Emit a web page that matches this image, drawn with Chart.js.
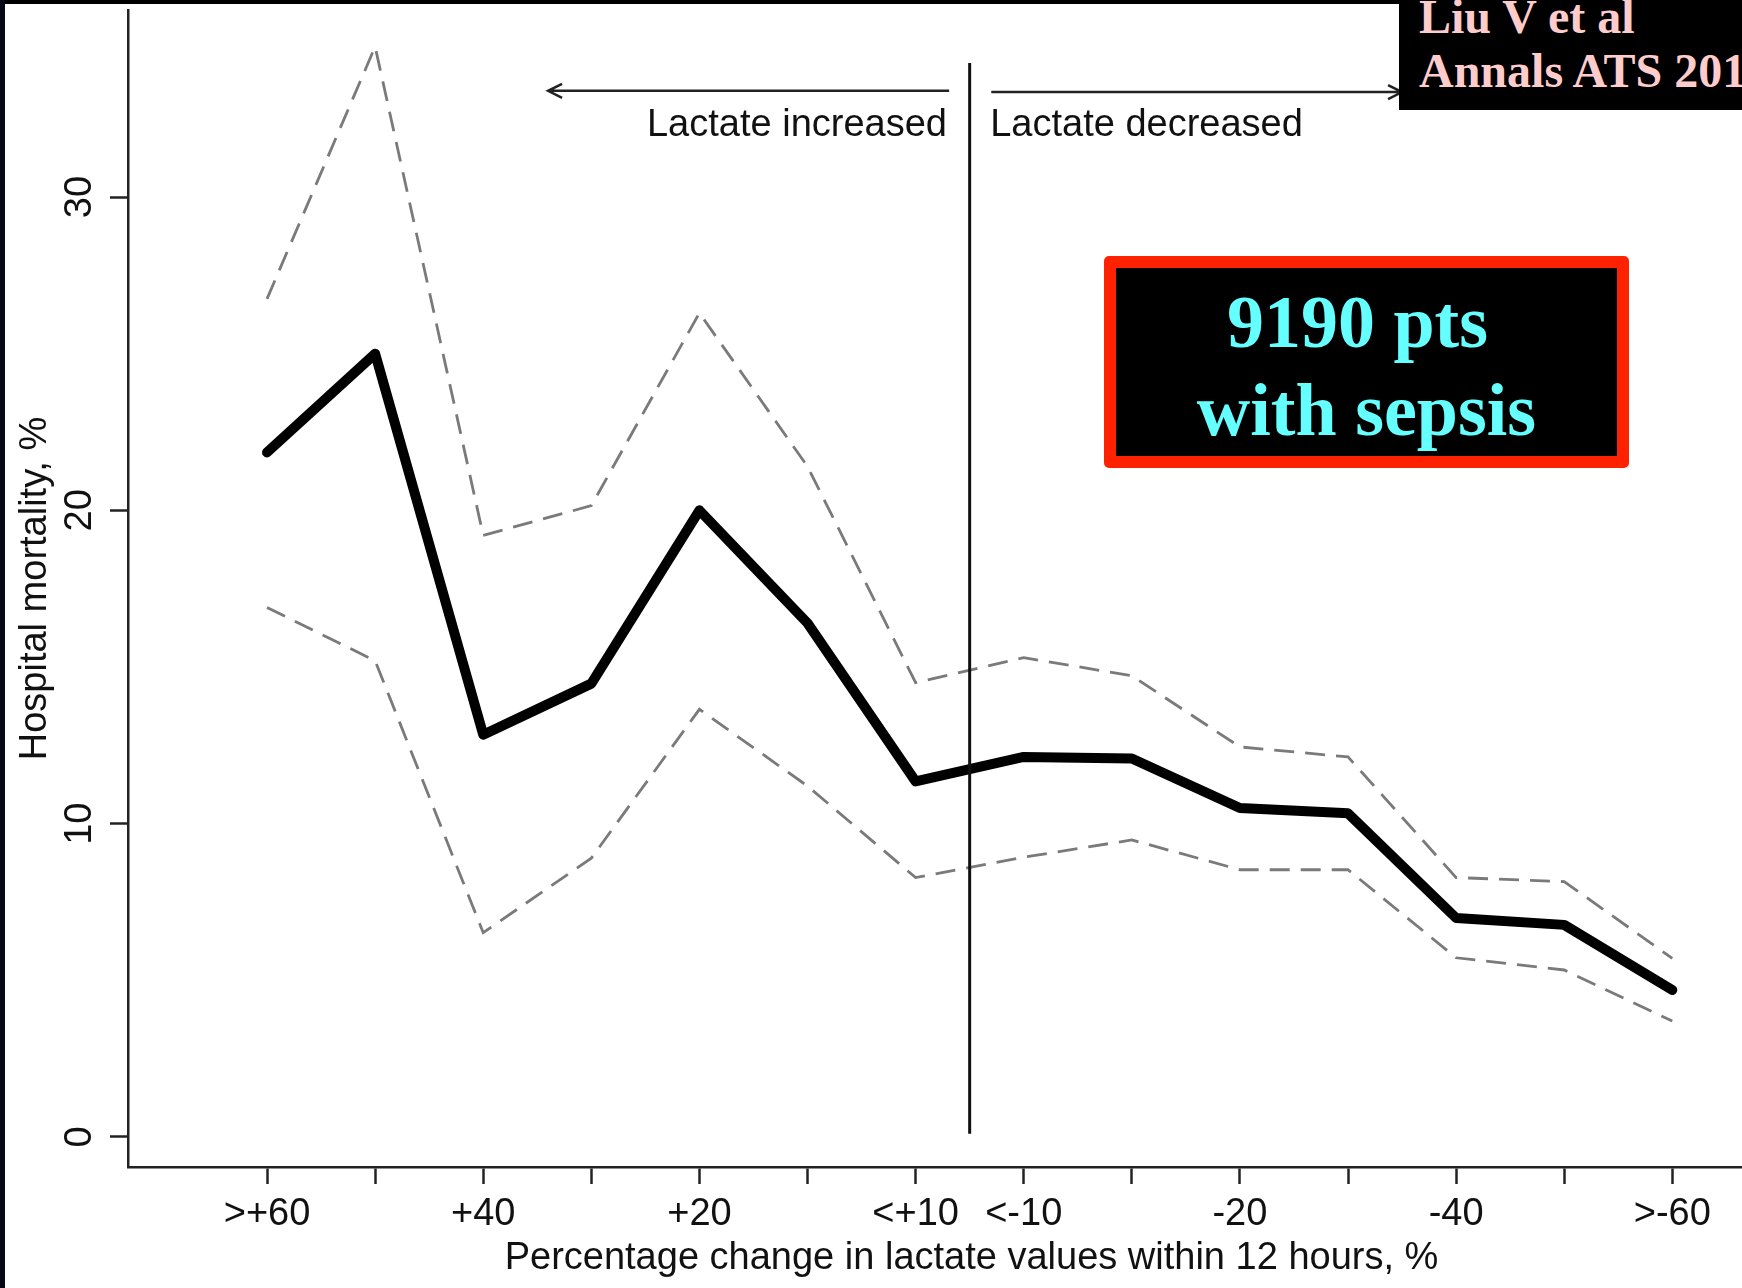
<!DOCTYPE html>
<html>
<head>
<meta charset="utf-8">
<title>Lactate change vs hospital mortality</title>
<script src="https://cdn.jsdelivr.net/npm/chart.js@4.4.1/dist/chart.umd.min.js"></script>
<style>
  html, body { margin:0; padding:0; width:1742px; height:1288px; overflow:hidden; background:#000; }
  #leftStrip { position:absolute; left:0; top:0; width:5px; height:1288px; background:#070716; }
  #frame { position:absolute; left:5px; top:4px; width:1737px; height:1284px; background:#fff; overflow:hidden; }
  #wrap { position:absolute; left:0; top:0; width:1810px; height:1284px; }
  .cite { position:absolute; left:1399px; top:0; width:343px; height:110px; background:#000; overflow:hidden; }
  .cite div { position:absolute; left:20px; white-space:nowrap; color:#ffcccc;
    font:bold 48px/48px "Liberation Serif", "Times New Roman", serif; }
  .redbox { position:absolute; left:1104px; top:256px; width:525px; height:212px; box-sizing:border-box;
    border:12px solid #ff2200; border-radius:5px; background:#000; }
  .big { position:absolute; white-space:nowrap; color:#66ffff; text-align:center; width:525px; left:1104px;
    font:bold 74px/74px "Liberation Serif", "Times New Roman", serif; }
</style>
</head>
<body>
<div id="leftStrip"></div>
<div id="frame">
  <div id="wrap"><canvas id="chart"></canvas></div>
</div>
<div class="cite">
  <div style="top:-7px">Liu V et al</div>
  <div style="top:47px">Annals ATS 201</div>
</div>
<div class="redbox"></div>
<div class="big" style="top:285px; padding-right:18px; box-sizing:border-box;">9190 pts</div>
<div class="big" style="top:373px;">with sepsis</div>

<script>
  // values (hospital mortality, %)
  const tickLabels = ['>+60','','+40','','+20','','<+10','<-10','','-20','','-40','','>-60'];
  const mortality = [21.85, 25.0, 12.84, 14.47, 20.0, 16.4, 11.35, 12.13, 12.08, 10.5, 10.33, 6.99, 6.77, 4.69];
  const upperCI   = [26.75, 34.8, 19.2, 20.15, 26.3, 21.4, 14.5, 15.3, 14.72, 12.45, 12.13, 8.28, 8.15, 5.7];
  const lowerCI   = [16.9, 15.2, 6.52, 8.9, 13.65, 11.2, 8.28, 8.93, 9.48, 8.53, 8.53, 5.72, 5.33, 3.7];
  const yTicks = [0, 10, 20, 30];

  // annotation positions, in data units
  const divider = { x: 6.5, from: 0.1, to: 34.28 };
  const arrows = [ { from: 6.31, to: 2.6, y: 33.39 }, { from: 6.7, to: 10.5, y: 33.35 } ];
  const sideLabels = [
    { text: 'Lactate increased', x: 6.29, y: 31.95, align: 'right' },
    { text: 'Lactate decreased', x: 6.69, y: 31.95, align: 'left' }
  ];

  const FONT = '"Liberation Sans", Arial, Helvetica, sans-serif';
  Chart.defaults.font.family = FONT;
  Chart.defaults.color = '#111';

  const pts = arr => arr.map((v, i) => ({ x: i, y: v }));

  const annotations = {
    id: 'annotations',
    afterDatasetsDraw(chart){
      const ctx = chart.ctx, xs = chart.scales.x, ys = chart.scales.y;
      ctx.save();
      ctx.strokeStyle = '#111';
      ctx.lineWidth = 3;
      ctx.beginPath();
      ctx.moveTo(xs.getPixelForValue(divider.x), ys.getPixelForValue(divider.from));
      ctx.lineTo(xs.getPixelForValue(divider.x), ys.getPixelForValue(divider.to));
      ctx.stroke();

      ctx.lineWidth = 2.5;
      ctx.strokeStyle = '#222';
      arrows.forEach(a => {
        const x0 = xs.getPixelForValue(a.from), x1 = xs.getPixelForValue(a.to), y = ys.getPixelForValue(a.y);
        const dir = x1 > x0 ? 1 : -1;
        ctx.beginPath();
        ctx.moveTo(x0, y); ctx.lineTo(x1, y);
        ctx.moveTo(x1 - dir * 14, y - 7); ctx.lineTo(x1, y); ctx.lineTo(x1 - dir * 14, y + 7);
        ctx.stroke();
      });

      ctx.fillStyle = '#111';
      ctx.font = '38px ' + FONT;
      ctx.textBaseline = 'alphabetic';
      sideLabels.forEach(l => {
        ctx.textAlign = l.align;
        ctx.fillText(l.text, xs.getPixelForValue(l.x), ys.getPixelForValue(l.y));
      });
      ctx.restore();
    }
  };

  new Chart(document.getElementById('chart'), {
    type: 'line',
    data: {
      datasets: [
        { label: 'Mortality', data: pts(mortality), borderColor: '#000', borderWidth: 10,
          borderJoinStyle: 'round', borderCapStyle: 'round', pointRadius: 0, tension: 0 },
        { label: 'Upper 95% CI', data: pts(upperCI), borderColor: '#7a7a7a', borderWidth: 2.8,
          borderDash: [20, 11], pointRadius: 0, tension: 0 },
        { label: 'Lower 95% CI', data: pts(lowerCI), borderColor: '#7a7a7a', borderWidth: 2.8,
          borderDash: [20, 11], pointRadius: 0, tension: 0 }
      ]
    },
    options: {
      responsive: true,
      maintainAspectRatio: false,
      animation: false,
      layout: { padding: { top: 6, right: 0, bottom: 0, left: 0 } },
      plugins: { legend: { display: false }, tooltip: { enabled: false } },
      scales: {
        x: {
          type: 'linear', min: -1.286, max: 14.32,
          afterBuildTicks: s => { s.ticks = tickLabels.map((_, i) => ({ value: i })); },
          afterFit: s => { s.height = 121; s.paddingLeft = 0; s.paddingRight = 0; },
          ticks: { autoSkip: false, minRotation: 0, maxRotation: 0, padding: 8,
            font: { size: 38 }, callback: v => tickLabels[v] ?? '' },
          grid: { display: true, drawOnChartArea: false, drawTicks: true, tickLength: 17,
            tickWidth: 2.5, tickColor: '#222' },
          border: { display: true, color: '#222', width: 2.5 },
          title: { display: true, text: 'Percentage change in lactate values within 12 hours, %',
            font: { size: 38 }, padding: { top: 0, bottom: 7 } }
        },
        y: {
          min: -0.958, max: 35.97,
          afterBuildTicks: s => { s.ticks = yTicks.map(v => ({ value: v })); },
          afterFit: s => { s.width = 123; s.paddingTop = 0; s.paddingBottom = 0; },
          ticks: { minRotation: 90, maxRotation: 90, crossAlign: 'center', padding: 8,
            font: { size: 38 } },
          grid: { display: true, drawOnChartArea: false, drawTicks: true, tickLength: 18,
            tickWidth: 2.5, tickColor: '#222' },
          border: { display: true, color: '#222', width: 2.5 },
          title: { display: true, text: 'Hospital mortality, %', font: { size: 38 },
            padding: { top: 8, bottom: 0 } }
        }
      }
    },
    plugins: [annotations]
  });
</script>
</body>
</html>
